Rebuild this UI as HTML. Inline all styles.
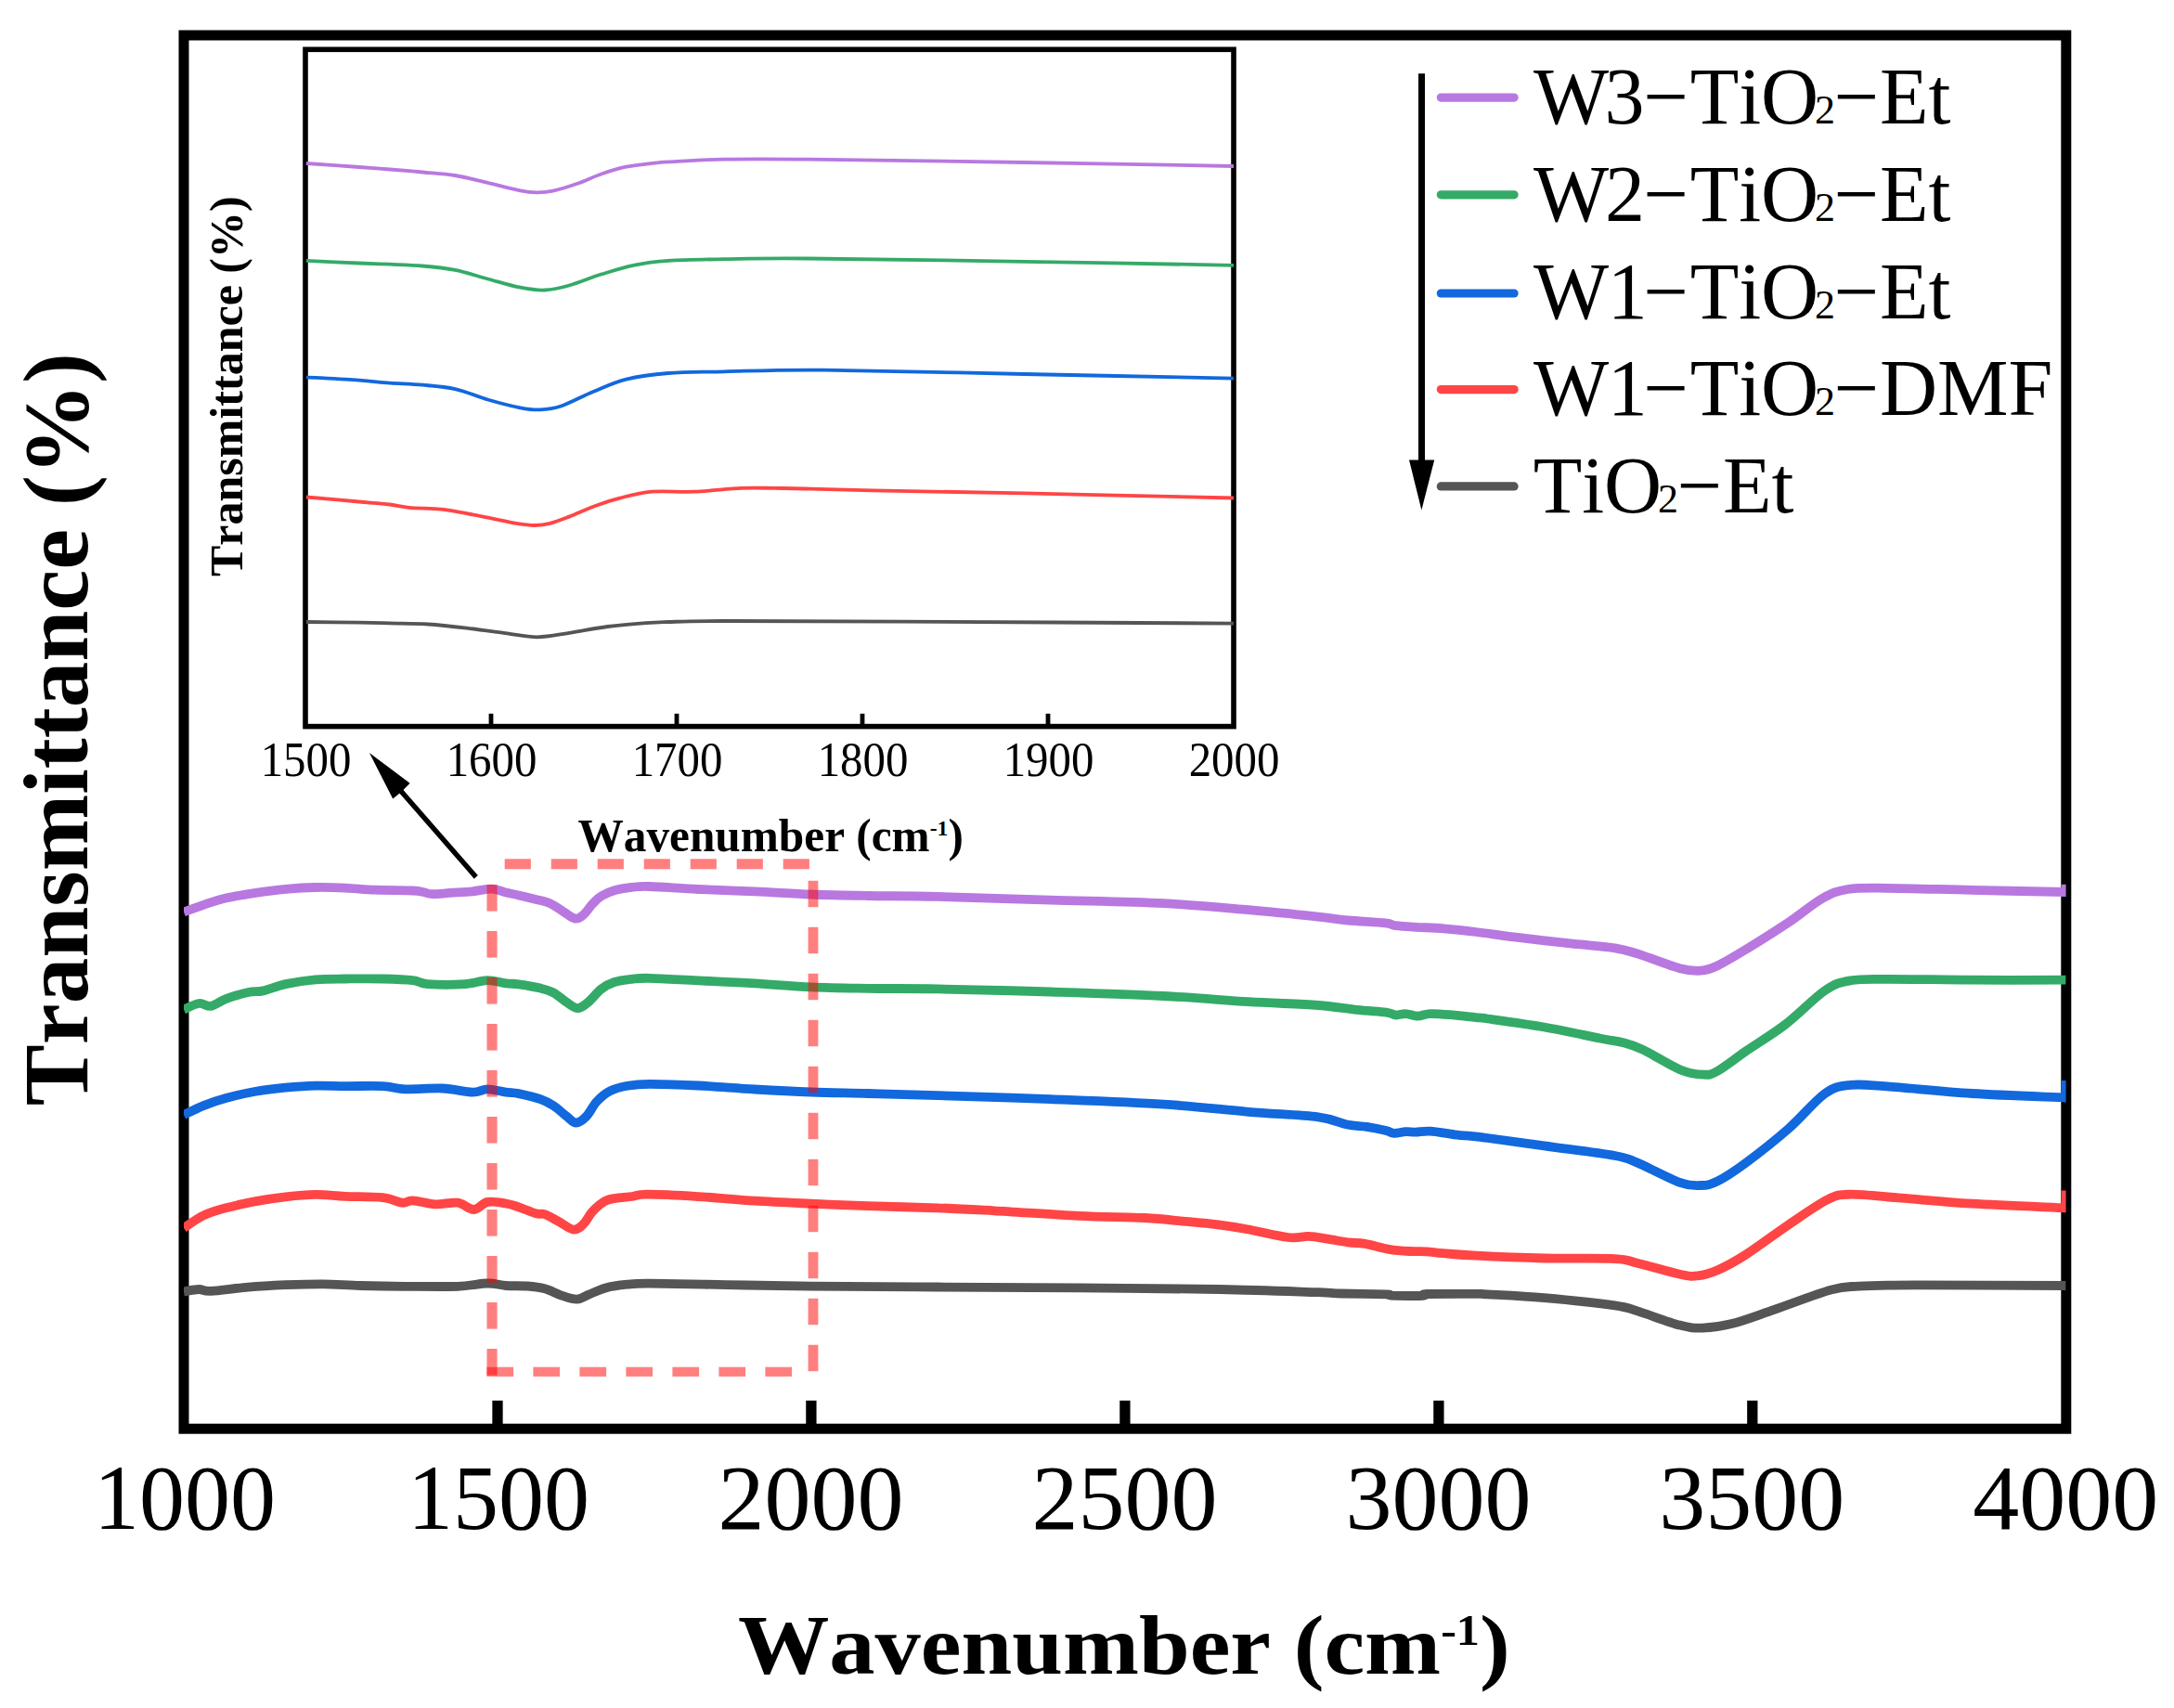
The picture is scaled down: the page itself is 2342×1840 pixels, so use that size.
<!DOCTYPE html>
<html><head><meta charset="utf-8"><title>FTIR spectra</title>
<style>html,body{margin:0;padding:0;background:#fff;}svg{display:block;}.serif{font-family:"Liberation Serif",serif;font-kerning:none;}</style></head><body>
<svg width="2342" height="1840" viewBox="0 0 2342 1840">
<rect x="0" y="0" width="2342" height="1840" fill="#fff"/>
<rect x="198" y="38" width="2027.8" height="1501.2" fill="none" stroke="#000" stroke-width="11"/>
<line x1="536.0" y1="1536" x2="536.0" y2="1508.8" stroke="#000" stroke-width="11.3"/>
<line x1="873.9" y1="1536" x2="873.9" y2="1508.8" stroke="#000" stroke-width="11.3"/>
<line x1="1211.9" y1="1536" x2="1211.9" y2="1508.8" stroke="#000" stroke-width="11.3"/>
<line x1="1549.9" y1="1536" x2="1549.9" y2="1508.8" stroke="#000" stroke-width="11.3"/>
<line x1="1887.8" y1="1536" x2="1887.8" y2="1508.8" stroke="#000" stroke-width="11.3"/>
<defs><clipPath id="cm"><rect x="198" y="20" width="2027.6" height="1519"/></clipPath><clipPath id="ci"><rect x="329" y="53.3" width="1000" height="729.3"/></clipPath></defs>
<g fill="none" stroke-width="9.8" stroke-linejoin="round" stroke-linecap="butt" clip-path="url(#cm)">
<path d="M198.0,1391.4 C200.7,1391.0 209.4,1389.1 214.3,1389.0 C219.2,1388.9 218.3,1391.3 227.2,1390.9 C236.1,1390.5 254.1,1387.7 267.5,1386.6 C280.9,1385.5 294.3,1384.8 307.7,1384.2 C321.1,1383.7 334.6,1383.2 348.0,1383.3 C361.4,1383.4 373.4,1384.6 388.2,1385.0 C402.9,1385.4 419.1,1385.7 436.5,1385.8 C453.9,1385.9 478.1,1386.3 492.9,1385.8 C507.7,1385.2 516.4,1382.6 525.1,1382.5 C533.8,1382.4 537.8,1384.5 545.0,1385.0 C552.2,1385.5 561.1,1385.0 568.1,1385.5 C575.1,1386.0 580.5,1386.6 586.8,1388.3 C593.0,1390.0 599.8,1393.9 605.6,1395.8 C611.4,1397.7 616.8,1399.8 621.5,1399.6 C626.2,1399.4 628.6,1396.9 633.7,1394.9 C638.9,1392.9 645.4,1389.3 652.4,1387.4 C659.4,1385.5 667.9,1384.5 675.8,1383.7 C683.7,1382.9 682.2,1382.6 700.0,1382.7 C717.8,1382.8 753.6,1383.6 782.6,1384.1 C811.6,1384.6 836.0,1385.2 873.9,1385.6 C911.8,1386.0 962.0,1386.2 1010.0,1386.5 C1058.0,1386.8 1111.5,1387.0 1162.2,1387.4 C1212.9,1387.8 1271.3,1388.2 1314.3,1389.0 C1357.3,1389.8 1398.3,1391.5 1420.0,1392.2 C1441.7,1393.0 1432.4,1393.2 1444.7,1393.5 C1457.0,1393.8 1485.1,1394.0 1494.0,1394.3 C1502.9,1394.6 1491.5,1395.3 1498.0,1395.6 C1504.5,1395.8 1526.5,1396.1 1533.0,1395.8 C1539.5,1395.5 1527.5,1394.3 1537.0,1394.0 C1546.5,1393.7 1579.1,1393.8 1590.0,1393.8 C1600.9,1393.8 1590.3,1393.6 1602.6,1394.3 C1614.8,1395.0 1640.7,1396.1 1663.5,1398.1 C1686.3,1400.1 1722.9,1403.9 1739.6,1406.3 C1756.3,1408.7 1752.2,1408.9 1763.9,1412.4 C1775.6,1416.0 1797.9,1424.6 1809.6,1427.6 C1821.3,1430.6 1824.6,1430.8 1833.9,1430.6 C1843.2,1430.3 1852.8,1429.4 1865.7,1426.1 C1878.6,1422.8 1893.5,1417.0 1911.3,1410.9 C1929.0,1404.8 1957.0,1393.8 1972.2,1389.6 C1987.4,1385.4 1987.4,1386.5 2002.6,1385.6 C2017.8,1384.7 2026.3,1384.5 2063.5,1384.4 C2100.7,1384.3 2198.6,1384.9 2225.6,1385.0" stroke="#555555"/>
<path d="M198.0,1323.0 C201.5,1320.7 211.6,1313.0 219.2,1309.4 C226.8,1305.8 233.9,1303.8 243.3,1301.3 C252.7,1298.8 264.8,1296.1 275.5,1294.1 C286.2,1292.1 297.0,1290.5 307.7,1289.3 C318.4,1288.1 329.2,1287.0 339.9,1286.9 C350.6,1286.8 360.0,1288.3 372.1,1288.8 C384.2,1289.3 402.2,1288.9 412.4,1290.1 C422.6,1291.2 427.9,1295.2 433.3,1295.7 C438.7,1296.2 438.7,1293.0 444.6,1293.3 C450.5,1293.6 460.6,1296.9 468.7,1297.3 C476.8,1297.7 485.9,1294.8 492.9,1295.7 C499.9,1296.7 505.2,1303.1 510.6,1303.0 C516.0,1302.9 519.4,1296.0 525.1,1294.9 C530.8,1293.8 539.4,1295.6 545.0,1296.5 C550.6,1297.4 553.3,1298.5 558.7,1300.3 C564.1,1302.1 572.8,1306.0 577.5,1307.3 C582.2,1308.6 582.9,1306.9 586.8,1308.2 C590.7,1309.5 595.7,1312.6 600.9,1315.3 C606.1,1318.0 613.1,1324.1 617.8,1324.6 C622.5,1325.1 625.6,1321.4 629.0,1318.1 C632.4,1314.8 634.5,1309.1 638.4,1305.0 C642.3,1300.9 647.7,1296.1 652.4,1293.7 C657.1,1291.3 661.8,1291.2 666.5,1290.4 C671.2,1289.6 675.4,1289.6 680.5,1289.0 C685.6,1288.4 685.4,1286.7 697.4,1286.7 C709.4,1286.7 732.9,1287.9 752.2,1289.1 C771.5,1290.3 792.7,1292.4 813.0,1293.7 C833.3,1295.0 853.6,1295.8 873.9,1296.7 C894.2,1297.6 912.1,1298.4 934.8,1299.2 C957.5,1300.0 987.3,1300.5 1010.0,1301.3 C1032.7,1302.1 1045.5,1302.9 1070.9,1304.3 C1096.3,1305.7 1135.2,1308.5 1162.2,1309.8 C1189.2,1311.1 1213.9,1311.0 1233.1,1312.0 C1252.3,1313.0 1264.4,1314.7 1277.3,1315.9 C1290.2,1317.1 1299.4,1317.8 1310.4,1319.2 C1321.4,1320.6 1330.6,1321.9 1343.5,1324.2 C1356.4,1326.5 1376.7,1331.7 1387.7,1333.0 C1398.8,1334.3 1402.8,1331.6 1409.8,1331.9 C1416.8,1332.2 1423.0,1333.5 1430.0,1334.6 C1437.0,1335.7 1445.3,1337.5 1452.1,1338.4 C1458.8,1339.3 1463.2,1338.7 1470.5,1339.9 C1477.8,1341.1 1488.2,1344.5 1496.2,1345.8 C1504.2,1347.1 1511.5,1347.6 1518.3,1348.0 C1525.0,1348.4 1530.6,1347.9 1536.7,1348.3 C1542.8,1348.7 1546.2,1349.5 1555.1,1350.2 C1564.0,1350.9 1571.9,1351.8 1590.0,1352.7 C1608.1,1353.6 1638.6,1354.9 1663.5,1355.5 C1688.4,1356.1 1722.9,1355.2 1739.6,1356.1 C1756.3,1357.0 1752.2,1357.9 1763.9,1360.7 C1775.6,1363.5 1798.7,1370.5 1809.6,1372.8 C1820.5,1375.1 1822.3,1375.2 1829.1,1374.4 C1835.9,1373.7 1841.8,1372.1 1850.4,1368.3 C1859.0,1364.5 1868.2,1359.6 1880.9,1351.5 C1893.6,1343.4 1911.8,1329.5 1926.5,1319.6 C1941.2,1309.7 1957.9,1297.7 1969.1,1292.2 C1980.3,1286.7 1980.3,1287.0 1993.5,1286.7 C2006.7,1286.5 2026.5,1289.0 2048.3,1290.7 C2070.1,1292.4 2094.8,1294.9 2124.3,1296.7 C2153.9,1298.5 2208.7,1300.5 2225.6,1301.3 L2225.6,1282.6" stroke="#FF4545"/>
<path d="M198.0,1201.2 C201.5,1199.5 211.6,1194.1 219.2,1191.1 C226.8,1188.1 233.9,1185.5 243.3,1183.0 C252.7,1180.5 264.8,1177.7 275.5,1175.8 C286.2,1173.9 297.0,1172.7 307.7,1171.7 C318.4,1170.7 329.2,1169.9 339.9,1169.6 C350.6,1169.3 360.0,1170.0 372.1,1170.1 C384.2,1170.2 401.7,1169.6 412.4,1170.1 C423.1,1170.6 425.8,1172.9 436.5,1173.3 C447.2,1173.7 464.7,1172.0 476.8,1172.5 C488.9,1173.0 500.9,1176.5 509.0,1176.6 C517.0,1176.7 519.1,1173.3 525.1,1173.3 C531.1,1173.3 539.4,1175.8 545.0,1176.6 C550.6,1177.4 552.5,1176.8 558.7,1178.1 C564.9,1179.4 576.0,1182.0 582.2,1184.2 C588.5,1186.4 591.5,1188.2 596.2,1191.2 C600.9,1194.2 606.2,1199.5 610.3,1202.5 C614.4,1205.5 617.0,1209.5 620.6,1209.5 C624.2,1209.5 628.1,1206.3 631.8,1202.5 C635.5,1198.7 638.8,1191.0 643.0,1186.5 C647.2,1182.0 651.6,1178.1 657.1,1175.3 C662.6,1172.5 668.6,1171.0 675.8,1169.7 C682.9,1168.5 687.3,1167.8 700.0,1167.8 C712.7,1167.8 733.4,1168.5 752.2,1169.5 C771.0,1170.5 792.7,1172.3 813.0,1173.5 C833.3,1174.7 853.6,1175.8 873.9,1176.5 C894.2,1177.2 912.1,1177.4 934.8,1178.0 C957.5,1178.6 977.2,1179.2 1010.0,1180.2 C1042.8,1181.2 1091.1,1182.5 1131.7,1184.1 C1172.3,1185.7 1218.0,1187.3 1253.5,1189.6 C1289.0,1191.9 1317.0,1195.5 1344.8,1197.8 C1372.5,1200.1 1402.3,1201.0 1420.0,1203.3 C1437.7,1205.6 1442.4,1209.7 1451.1,1211.5 C1459.8,1213.3 1465.2,1212.8 1472.2,1213.9 C1479.2,1215.0 1488.3,1216.9 1493.2,1218.1 C1498.1,1219.2 1498.2,1220.6 1501.7,1220.8 C1505.2,1221.0 1510.4,1219.4 1514.3,1219.2 C1518.2,1219.0 1520.5,1219.8 1524.9,1219.7 C1529.3,1219.6 1533.7,1218.2 1540.7,1218.6 C1547.7,1219.0 1558.8,1221.3 1567.0,1222.3 C1575.2,1223.3 1584.1,1223.8 1590.0,1224.4 C1595.9,1225.0 1590.3,1224.3 1602.6,1226.0 C1614.8,1227.7 1640.7,1231.2 1663.5,1234.4 C1686.3,1237.6 1722.9,1242.0 1739.6,1245.0 C1756.3,1248.0 1752.2,1247.8 1763.9,1252.6 C1775.6,1257.4 1798.2,1269.8 1809.6,1273.9 C1821.0,1278.0 1825.4,1277.2 1832.2,1277.0 C1839.0,1276.8 1842.3,1276.5 1850.4,1272.4 C1858.5,1268.3 1868.2,1262.0 1880.9,1252.6 C1893.6,1243.2 1912.3,1228.5 1926.5,1216.1 C1940.7,1203.7 1954.9,1185.9 1966.1,1178.0 C1977.3,1170.1 1982.3,1170.2 1993.5,1168.9 C2004.7,1167.6 2011.2,1168.9 2033.0,1170.4 C2054.8,1171.9 2092.2,1176.0 2124.3,1178.0 C2156.4,1180.0 2208.7,1181.8 2225.6,1182.6 L2225.6,1164.0" stroke="#1268DD"/>
<path d="M198.0,1087.5 C200.7,1086.4 209.4,1081.6 214.3,1081.0 C219.2,1080.4 222.4,1084.6 227.2,1083.8 C232.0,1083.0 236.6,1078.7 243.3,1076.2 C250.0,1073.7 260.8,1070.5 267.5,1069.0 C274.2,1067.5 276.9,1068.9 283.6,1067.4 C290.3,1065.9 298.3,1062.1 307.7,1060.1 C317.1,1058.1 329.2,1056.2 339.9,1055.3 C350.6,1054.4 360.0,1054.6 372.1,1054.5 C384.2,1054.4 400.3,1054.2 412.4,1054.5 C424.5,1054.8 436.6,1055.2 444.6,1056.1 C452.7,1057.0 451.3,1059.4 460.7,1060.1 C470.1,1060.8 490.2,1060.8 500.9,1060.1 C511.6,1059.4 517.8,1056.2 525.1,1056.1 C532.5,1056.0 539.4,1058.6 545.0,1059.3 C550.6,1060.0 552.5,1059.5 558.7,1060.4 C564.9,1061.3 576.0,1063.1 582.2,1064.6 C588.5,1066.1 591.5,1066.8 596.2,1069.3 C600.9,1071.8 605.9,1076.8 610.3,1079.6 C614.7,1082.4 618.5,1086.1 622.4,1086.1 C626.3,1086.1 629.5,1083.0 633.7,1079.6 C637.9,1076.2 643.0,1069.1 647.7,1065.5 C652.4,1061.9 656.3,1059.8 661.8,1058.0 C667.3,1056.2 674.1,1055.5 680.5,1054.8 C686.9,1054.1 688.0,1053.5 700.0,1053.8 C712.0,1054.0 733.4,1055.4 752.2,1056.3 C771.0,1057.2 792.7,1058.1 813.0,1059.3 C833.3,1060.5 853.6,1062.4 873.9,1063.3 C894.2,1064.2 912.1,1064.4 934.8,1064.8 C957.5,1065.2 977.2,1064.8 1010.0,1065.4 C1042.8,1066.0 1091.1,1067.2 1131.7,1068.5 C1172.3,1069.8 1218.0,1071.2 1253.5,1073.0 C1289.0,1074.8 1317.0,1077.4 1344.8,1079.1 C1372.5,1080.8 1400.5,1081.5 1420.0,1083.0 C1439.5,1084.5 1449.4,1086.6 1461.6,1087.9 C1473.8,1089.2 1486.2,1089.7 1493.2,1090.6 C1500.2,1091.5 1500.3,1093.2 1503.8,1093.5 C1507.3,1093.8 1510.4,1091.9 1514.3,1092.1 C1518.2,1092.3 1522.6,1094.6 1527.0,1094.6 C1531.4,1094.6 1534.9,1092.3 1540.7,1092.1 C1546.5,1091.9 1553.6,1092.5 1561.8,1093.2 C1570.0,1093.9 1583.2,1095.5 1590.0,1096.2 C1596.8,1096.9 1590.3,1095.8 1602.6,1097.5 C1614.8,1099.2 1643.2,1103.0 1663.5,1106.5 C1683.8,1110.0 1710.1,1115.9 1724.3,1118.7 C1738.5,1121.5 1741.1,1121.3 1748.7,1123.3 C1756.3,1125.3 1759.8,1126.1 1770.0,1130.9 C1780.2,1135.7 1798.7,1147.7 1809.6,1152.2 C1820.5,1156.7 1828.4,1157.5 1835.2,1157.7 C1842.0,1158.0 1842.8,1157.9 1850.4,1153.7 C1858.0,1149.5 1868.7,1140.8 1880.9,1132.4 C1893.1,1124.0 1909.3,1114.4 1923.5,1103.5 C1937.7,1092.6 1954.4,1074.9 1966.1,1067.0 C1977.8,1059.1 1982.3,1058.3 1993.5,1056.3 C2004.7,1054.3 2011.2,1054.9 2033.0,1054.8 C2054.8,1054.7 2092.2,1055.5 2124.3,1055.7 C2156.4,1055.9 2208.7,1055.7 2225.6,1055.7" stroke="#34AA68"/>
<path d="M198.0,982.5 C201.5,981.2 211.6,977.3 219.2,974.8 C226.8,972.3 233.9,969.6 243.3,967.5 C252.7,965.4 264.8,963.5 275.5,961.9 C286.2,960.3 297.0,958.9 307.7,957.9 C318.4,956.9 329.2,956.2 339.9,956.0 C350.6,955.8 361.4,956.1 372.1,956.6 C382.8,957.1 392.2,958.2 404.3,958.7 C416.4,959.2 436.0,959.1 444.6,959.5 C453.2,959.9 452.5,960.4 456.0,961.0 C459.5,961.6 460.7,963.1 465.5,963.2 C470.3,963.4 477.6,962.4 484.8,961.9 C492.1,961.4 501.5,961.0 509.0,960.3 C516.5,959.6 523.9,957.4 529.9,957.6 C535.9,957.8 540.2,960.4 545.0,961.5 C549.8,962.6 553.3,963.1 558.7,964.4 C564.1,965.6 572.0,967.6 577.5,969.0 C583.0,970.4 586.8,970.8 591.5,972.8 C596.2,974.8 600.9,978.4 605.6,981.2 C610.3,984.0 615.7,989.0 619.6,989.6 C623.5,990.2 625.9,987.6 629.0,985.0 C632.1,982.4 635.3,977.0 638.4,973.7 C641.5,970.4 643.8,967.7 647.7,965.3 C651.6,962.9 656.3,960.8 661.8,959.2 C667.3,957.6 674.1,956.6 680.5,955.9 C686.9,955.2 688.0,954.6 700.0,955.0 C712.0,955.4 733.4,957.1 752.2,958.0 C771.0,958.9 792.7,959.5 813.0,960.4 C833.3,961.3 853.6,962.7 873.9,963.5 C894.2,964.3 912.1,964.6 934.8,965.0 C957.5,965.4 977.2,965.1 1010.0,965.9 C1042.8,966.7 1091.1,968.4 1131.7,969.6 C1172.3,970.8 1218.0,971.4 1253.5,973.2 C1289.0,975.0 1317.0,977.8 1344.8,980.2 C1372.5,982.6 1402.1,985.7 1420.0,987.6 C1437.9,989.5 1440.0,990.4 1452.1,991.5 C1464.2,992.6 1483.9,993.4 1492.5,994.4 C1501.1,995.4 1498.1,996.5 1503.6,997.2 C1509.1,997.9 1517.1,998.3 1525.7,998.8 C1534.3,999.3 1544.4,999.4 1555.1,1000.3 C1565.8,1001.2 1577.0,1002.4 1590.0,1004.0 C1603.0,1005.6 1615.7,1007.6 1633.0,1009.7 C1650.3,1011.8 1676.1,1014.8 1693.9,1016.7 C1711.7,1018.6 1727.9,1019.5 1739.6,1021.3 C1751.3,1023.1 1752.2,1023.8 1763.9,1027.4 C1775.6,1031.1 1798.2,1040.2 1809.6,1043.2 C1821.0,1046.2 1825.4,1046.2 1832.2,1045.7 C1839.0,1045.2 1842.3,1044.0 1850.4,1040.2 C1858.5,1036.4 1868.2,1030.5 1880.9,1022.8 C1893.6,1015.1 1912.8,1003.0 1926.5,993.9 C1940.2,984.8 1952.3,974.0 1963.0,968.0 C1973.7,962.0 1978.7,959.9 1990.4,958.0 C2002.1,956.1 2010.7,956.6 2033.0,956.8 C2055.3,956.9 2092.2,958.2 2124.3,958.9 C2156.4,959.6 2208.7,960.6 2225.6,961.0 L2225.6,952.7" stroke="#B878E0"/>
</g>
<g fill="rgb(255,0,0)" fill-opacity="0.5">
<rect x="543.7" y="925.3" width="28.2" height="11"/>
<rect x="593.7" y="925.3" width="28.2" height="11"/>
<rect x="643.7" y="925.3" width="28.2" height="11"/>
<rect x="693.7" y="925.3" width="28.2" height="11"/>
<rect x="743.7" y="925.3" width="28.2" height="11"/>
<rect x="793.7" y="925.3" width="28.2" height="11"/>
<rect x="843.7" y="925.3" width="28.2" height="11"/>
<rect x="524.4" y="1472.7" width="28.7" height="10.2"/>
<rect x="574.4" y="1472.7" width="28.7" height="10.2"/>
<rect x="624.4" y="1472.7" width="28.7" height="10.2"/>
<rect x="674.4" y="1472.7" width="28.7" height="10.2"/>
<rect x="724.4" y="1472.7" width="28.7" height="10.2"/>
<rect x="774.4" y="1472.7" width="28.7" height="10.2"/>
<rect x="824.4" y="1472.7" width="28.7" height="10.2"/>
<rect x="524.5" y="953.0" width="11.1" height="28.6"/>
<rect x="524.5" y="1003.0" width="11.1" height="28.6"/>
<rect x="524.5" y="1053.0" width="11.1" height="28.6"/>
<rect x="524.5" y="1103.0" width="11.1" height="28.6"/>
<rect x="524.5" y="1153.0" width="11.1" height="28.6"/>
<rect x="524.5" y="1203.0" width="11.1" height="28.6"/>
<rect x="524.5" y="1253.0" width="11.1" height="28.6"/>
<rect x="524.5" y="1303.0" width="11.1" height="28.6"/>
<rect x="524.5" y="1353.0" width="11.1" height="28.6"/>
<rect x="524.5" y="1403.0" width="11.1" height="28.6"/>
<rect x="524.5" y="1453.0" width="11.1" height="28.6"/>
<rect x="870.6" y="948.8" width="10.8" height="28.4"/>
<rect x="870.6" y="998.8" width="10.8" height="28.4"/>
<rect x="870.6" y="1048.8" width="10.8" height="28.4"/>
<rect x="870.6" y="1098.8" width="10.8" height="28.4"/>
<rect x="870.6" y="1148.8" width="10.8" height="28.4"/>
<rect x="870.6" y="1198.8" width="10.8" height="28.4"/>
<rect x="870.6" y="1248.8" width="10.8" height="28.4"/>
<rect x="870.6" y="1298.8" width="10.8" height="28.4"/>
<rect x="870.6" y="1348.8" width="10.8" height="28.4"/>
<rect x="870.6" y="1398.8" width="10.8" height="28.4"/>
<rect x="870.6" y="1448.8" width="10.8" height="28.4"/>
</g>
<g class="serif" font-size="100" text-anchor="middle" fill="#000">
<text transform="translate(199.0,1646.5) scale(0.980,1)">1000</text>
<text transform="translate(537.0,1646.5) scale(0.980,1)">1500</text>
<text transform="translate(873.4,1646.5) scale(1.000,1)">2000</text>
<text transform="translate(1211.4,1646.5) scale(1.000,1)">2500</text>
<text transform="translate(1549.4,1646.5) scale(1.000,1)">3000</text>
<text transform="translate(1887.3,1646.5) scale(1.000,1)">3500</text>
<text transform="translate(2225.3,1646.5) scale(1.000,1)">4000</text>
</g>
<text class="serif" transform="translate(794.9,1803.3) scale(1.07,1)" x="0" y="0" font-size="92" font-weight="bold">Wavenumber (cm<tspan font-size="47" dy="-31.5">-1</tspan><tspan dy="31.5">)</tspan></text>
<text class="serif" transform="translate(93.7,1191.2) rotate(-90)" x="0" y="0" font-size="99" font-weight="bold">Transmittance (%)</text>
<rect x="329" y="53.3" width="1000" height="729.3" fill="none" stroke="#000" stroke-width="5.6"/>
<g fill="none" stroke-width="3.8" stroke-linejoin="round" clip-path="url(#ci)">
<path d="M330.0,670.0 C339.5,670.1 371.8,670.5 386.8,670.7 C401.8,670.9 407.6,671.1 420.0,671.4 C432.4,671.7 447.6,671.6 461.4,672.5 C475.2,673.4 489.0,675.0 502.8,676.6 C516.6,678.2 531.6,680.5 544.2,682.1 C556.9,683.7 567.2,686.3 578.7,686.3 C590.2,686.3 600.6,683.8 613.2,681.9 C625.9,680.0 640.8,676.8 654.6,675.0 C668.4,673.2 685.1,671.9 696.0,671.1 C706.9,670.3 706.0,670.4 720.0,670.0 C734.0,669.6 738.3,669.1 780.0,669.0 C821.7,668.9 878.5,669.2 970.0,669.6 C1061.5,670.0 1269.2,671.3 1329.0,671.6" stroke="#555555"/>
<path d="M330.0,535.5 C339.5,536.3 371.8,539.2 386.8,540.5 C401.8,541.8 411.0,542.4 420.0,543.5 C429.0,544.6 431.5,546.0 440.7,546.9 C449.9,547.8 464.8,547.6 475.2,548.6 C485.6,549.6 493.6,551.4 502.8,553.1 C512.0,554.8 521.2,556.8 530.4,558.6 C539.6,560.5 550.4,563.0 558.0,564.2 C565.6,565.4 570.1,566.1 575.9,566.0 C581.6,565.9 586.3,565.4 592.5,563.8 C598.7,562.2 605.3,559.6 613.2,556.6 C621.1,553.6 630.9,548.8 640.0,545.5 C649.1,542.2 657.2,539.2 667.6,536.6 C678.0,534.0 688.8,530.9 702.1,529.7 C715.4,528.6 731.5,530.3 747.6,529.7 C763.7,529.1 784.4,526.5 798.7,525.9 C813.0,525.3 821.7,525.8 833.2,525.9 C844.7,526.0 849.9,526.1 867.7,526.5 C885.5,526.9 900.7,527.5 940.0,528.3 C979.3,529.1 1038.9,530.0 1103.7,531.4 C1168.5,532.8 1291.5,535.6 1329.0,536.5" stroke="#FF4545"/>
<path d="M330.0,406.3 C339.5,406.9 371.8,408.6 386.8,409.7 C401.8,410.8 408.6,411.8 420.0,412.6 C431.4,413.4 443.4,413.6 455.1,414.7 C466.8,415.8 478.6,416.5 490.3,419.1 C502.0,421.7 513.7,427.1 525.4,430.5 C537.1,433.9 551.1,437.5 560.5,439.3 C569.9,441.1 574.3,441.7 581.6,441.4 C588.9,441.1 594.7,440.8 604.4,437.5 C614.1,434.2 627.9,426.5 639.6,421.7 C651.3,416.9 661.3,411.9 674.7,408.6 C688.1,405.3 702.5,403.4 720.0,402.0 C737.5,400.6 752.2,400.9 780.0,400.3 C807.8,399.7 832.8,398.2 886.8,398.6 C940.8,399.1 1030.0,401.5 1103.7,403.0 C1177.4,404.5 1291.5,406.8 1329.0,407.6" stroke="#1268DD"/>
<path d="M330.0,280.8 C339.5,281.2 371.8,282.9 386.8,283.5 C401.8,284.1 408.6,284.2 420.0,284.7 C431.4,285.2 443.4,285.5 455.1,286.5 C466.8,287.5 478.6,288.6 490.3,290.9 C502.0,293.2 513.7,297.4 525.4,300.5 C537.1,303.6 550.2,307.7 560.5,309.7 C570.8,311.7 578.1,312.9 586.9,312.5 C595.7,312.1 603.0,310.4 613.2,307.5 C623.5,304.6 636.7,298.9 648.4,295.3 C660.1,291.7 671.6,288.0 683.5,285.6 C695.4,283.2 703.9,282.0 720.0,280.9 C736.1,279.8 755.0,279.6 780.0,279.2 C805.0,278.8 816.0,278.1 870.0,278.5 C924.0,278.9 1027.2,280.6 1103.7,281.8 C1180.2,283.0 1291.5,285.1 1329.0,285.8" stroke="#34AA68"/>
<path d="M330.0,176.0 C339.5,176.7 371.8,178.9 386.8,180.0 C401.8,181.1 408.6,181.6 420.0,182.5 C431.4,183.4 443.4,184.4 455.1,185.5 C466.8,186.6 478.6,187.1 490.3,189.0 C502.0,190.9 513.7,194.2 525.4,196.9 C537.1,199.6 551.7,203.6 560.5,205.3 C569.3,207.1 572.2,207.3 578.1,207.4 C584.0,207.5 588.4,207.3 595.7,205.7 C603.0,204.1 613.2,200.9 622.0,197.8 C630.8,194.7 639.6,190.2 648.4,187.2 C657.2,184.2 665.9,181.5 674.7,179.7 C683.5,177.9 693.5,177.1 701.0,176.2 C708.5,175.3 706.8,175.2 720.0,174.4 C733.2,173.7 755.0,172.1 780.0,171.7 C805.0,171.2 816.0,171.1 870.0,171.7 C924.0,172.2 1027.2,173.8 1103.7,175.0 C1180.2,176.2 1291.5,178.3 1329.0,179.0" stroke="#B878E0"/>
</g>
<line x1="529.0" y1="782" x2="529.0" y2="768.8" stroke="#000" stroke-width="4.8"/>
<line x1="729.0" y1="782" x2="729.0" y2="768.8" stroke="#000" stroke-width="4.8"/>
<line x1="929.0" y1="782" x2="929.0" y2="768.8" stroke="#000" stroke-width="4.8"/>
<line x1="1129.0" y1="782" x2="1129.0" y2="768.8" stroke="#000" stroke-width="4.8"/>
<g class="serif" font-size="50" text-anchor="middle" fill="#000">
<text transform="translate(329.5,836.4) scale(0.94,1)" font-size="52">1500</text>
<text transform="translate(529.5,836.4) scale(0.94,1)" font-size="52">1600</text>
<text transform="translate(729.5,836.4) scale(0.94,1)" font-size="52">1700</text>
<text transform="translate(929.5,836.4) scale(0.94,1)" font-size="52">1800</text>
<text transform="translate(1129.5,836.4) scale(0.94,1)" font-size="52">1900</text>
<text transform="translate(1329.5,836.4) scale(0.94,1)" font-size="52">2000</text>
</g>
<text class="serif" transform="translate(622.5,916.7) scale(0.986,1)" x="0" y="0" font-size="50" font-weight="bold">Wavenumber (cm<tspan font-size="24" dy="-17.2">-1</tspan><tspan dy="17.2">)</tspan></text>
<text class="serif" transform="translate(261.3,621) rotate(-90)" x="0" y="0" font-size="50" font-weight="bold">Transmittance (%)</text>
<line x1="512.8" y1="944.9" x2="430" y2="850" stroke="#000" stroke-width="5.5"/>
<path d="M397.9,811.1 L441.6,843.7 L432.2,853.2 L423.2,860.6 Z" fill="#000"/>
<line x1="1531.5" y1="79.3" x2="1531.5" y2="497" stroke="#000" stroke-width="7"/>
<path d="M1518,495.5 L1545.2,495.5 L1531.4,549.4 Z" fill="#000"/>
<line x1="1552.3" y1="105.1" x2="1631.1" y2="105.1" stroke="#B878E0" stroke-width="9.2" stroke-linecap="round"/>
<text class="serif" y="132.9" font-size="86"><tspan x="1652.1">W</tspan><tspan x="1728.6">3</tspan><tspan x="1770.4">−</tspan><tspan x="1820.7">TiO</tspan><tspan x="1954.9" font-size="44">2</tspan><tspan x="1975.7">−</tspan><tspan x="2025.0">Et</tspan></text>
<line x1="1552.3" y1="209.8" x2="1631.1" y2="209.8" stroke="#34AA68" stroke-width="9.2" stroke-linecap="round"/>
<text class="serif" y="237.9" font-size="86"><tspan x="1652.1">W</tspan><tspan x="1728.9">2</tspan><tspan x="1770.4">−</tspan><tspan x="1820.7">TiO</tspan><tspan x="1954.9" font-size="44">2</tspan><tspan x="1975.7">−</tspan><tspan x="2025.0">Et</tspan></text>
<line x1="1552.3" y1="316.0" x2="1631.1" y2="316.0" stroke="#1268DD" stroke-width="9.2" stroke-linecap="round"/>
<text class="serif" y="342.8" font-size="86"><tspan x="1652.1">W</tspan><tspan x="1731.8">1</tspan><tspan x="1770.4">−</tspan><tspan x="1820.7">TiO</tspan><tspan x="1954.9" font-size="44">2</tspan><tspan x="1975.7">−</tspan><tspan x="2025.0">Et</tspan></text>
<line x1="1552.3" y1="419.6" x2="1631.1" y2="419.6" stroke="#FF4545" stroke-width="9.2" stroke-linecap="round"/>
<text class="serif" y="447.3" font-size="86"><tspan x="1652.1">W</tspan><tspan x="1731.8">1</tspan><tspan x="1770.4">−</tspan><tspan x="1820.7">TiO</tspan><tspan x="1954.9" font-size="44">2</tspan><tspan x="1975.7">−</tspan><tspan x="2025.0">DMF</tspan></text>
<line x1="1552.3" y1="523.9" x2="1631.1" y2="523.9" stroke="#555555" stroke-width="9.2" stroke-linecap="round"/>
<text class="serif" y="551.8" font-size="86"><tspan x="1651.7">TiO</tspan><tspan x="1785.9" font-size="44">2</tspan><tspan x="1806.7">−</tspan><tspan x="1856.0">Et</tspan></text>
</svg></body></html>
